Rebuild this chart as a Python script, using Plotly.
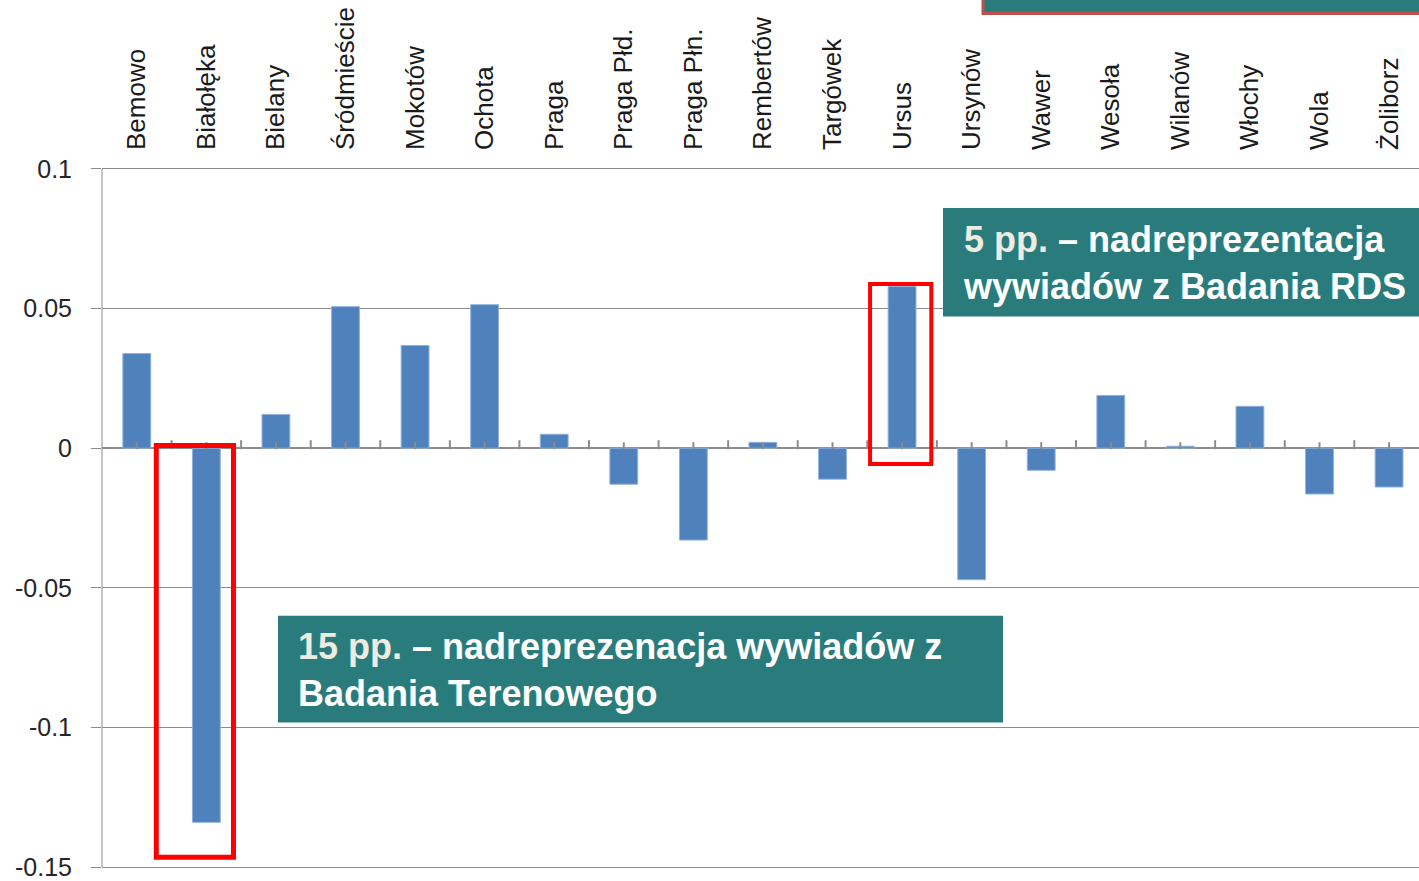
import plotly.graph_objects as go

categories = ["Bemowo", "Białołęka", "Bielany", "Śródmieście", "Mokotów", "Ochota", "Praga",
              "Praga Płd.", "Praga Płn.", "Rembertów", "Targówek", "Ursus", "Ursynów", "Wawer",
              "Wesoła", "Wilanów", "Włochy", "Wola", "Żoliborz"]
values = [0.0339, -0.134, 0.0121, 0.0507, 0.0368, 0.0514, 0.0050, -0.0129, -0.0329, 0.0021,
          -0.0111, 0.0579, -0.0471, -0.0079, 0.0189, 0.0007, 0.0150, -0.0164, -0.0139]
y_ticks = [0.1, 0.05, 0, -0.05, -0.1, -0.15]
y_tick_labels = ["0.1", "0.05", "0", "-0.05", "-0.1", "-0.15"]

W, H = 1419, 881
L, T, B = 102, 166, 9          # plot area padded by 3 px above/below the 0.1 / -0.15 lines
PAD = 3 * 0.25 / 700           # the same 3 px expressed in data units
TEAL = "#2A7C7C"
BAR = "#4F81BD"


def px_x(p):
    return (p - L) / (W - L)


def px_y(p):
    return (H - B - p) / (H - B - T)


fig = go.Figure()
fig.add_trace(go.Bar(x=categories, y=values, width=0.4,
                     marker=dict(color=BAR, line=dict(color="#8FB1DA", width=1))))

shapes = []
# small tick marks on the zero line (category centres and boundaries)
for i in range(len(categories)):
    for off, ln in ((0, 6), (0.5, 8)):
        shapes.append(dict(type="line", xref="x", yref="y", ysizemode="pixel", yanchor=0,
                           x0=i + off, x1=i + off, y0=-1, y1=ln,
                           line=dict(color="#8C8C8C", width=2), layer="above"))

# red highlight frames
i_b = categories.index("Białołęka")
shapes.append(dict(type="rect", xref="x", yref="y", x0=i_b - 0.72, x1=i_b + 0.39,
                   y0=0.001, y1=-0.1465, line=dict(color="#FF0000", width=5)))
i_u = categories.index("Ursus")
shapes.append(dict(type="rect", xref="x", yref="y", x0=i_u - 0.46, x1=i_u + 0.42,
                   y0=0.0588, y1=-0.0057, line=dict(color="#FF0000", width=4)))

# teal callout boxes
shapes.append(dict(type="rect", xref="paper", yref="paper", x0=px_x(943), x1=px_x(1430),
                   y0=px_y(317), y1=px_y(208), fillcolor=TEAL, line=dict(width=0), layer="above"))
shapes.append(dict(type="rect", xref="paper", yref="paper", x0=px_x(278), x1=px_x(1003),
                   y0=px_y(724), y1=px_y(617), fillcolor=TEAL, line=dict(width=0), layer="above"))
shapes.append(dict(type="rect", xref="paper", yref="paper", x0=px_x(983), x1=px_x(1430),
                   y0=px_y(13), y1=px_y(-10), fillcolor=TEAL,
                   line=dict(color="#C0504D", width=3), layer="above"))
# value axis line from 0.1 to -0.15
shapes.append(dict(type="line", xref="paper", yref="y", x0=0, x1=0, y0=-0.15, y1=0.1,
                   line=dict(color="#8C8C8C", width=1)))

annotations = [
    dict(xref="paper", yref="paper", x=px_x(961), y=px_y(263), xanchor="left", yanchor="middle",
         align="left", showarrow=False,
         text="<b><span style='color:#EEECE1'>5 pp.</span> – nadreprezentacja<br>wywiadów z Badania RDS</b>",
         font=dict(family="Liberation Sans, Arial", size=36, color="white")),
    dict(xref="paper", yref="paper", x=px_x(296), y=px_y(671), xanchor="left", yanchor="middle",
         align="left", showarrow=False,
         text="<b><span style='color:#EEECE1'>15 pp.</span> – nadreprezenacja wywiadów z<br>Badania Terenowego</b>",
         font=dict(family="Liberation Sans, Arial", size=36, color="white")),
]

fig.update_layout(
    width=W, height=H,
    margin=dict(l=L, r=0, t=T, b=B, pad=0),
    paper_bgcolor="white", plot_bgcolor="white",
    showlegend=False,
    shapes=shapes,
    annotations=annotations,
    bargap=0.6,
    font=dict(family="Liberation Sans, Arial", color="#262626"),
)
fig.update_xaxes(side="top", tickangle=-90, tickfont=dict(size=26, color="#1a1a1a"),
                 range=[-0.5, 18.43], showgrid=False, showline=False, ticks="",
                 ticklabelstandoff=15)
fig.update_yaxes(range=[-0.15 - PAD, 0.1 + PAD], tickvals=y_ticks, ticktext=y_tick_labels,
                 tickfont=dict(size=25, color="#262626"), showgrid=True, gridcolor="#8C8C8C",
                 gridwidth=1, zeroline=True, zerolinecolor="#8C8C8C", zerolinewidth=2,
                 showline=False, ticks="outside", ticklabeloverflow="allow",
                 ticklen=10, tickcolor="#8C8C8C", ticklabelstandoff=14)

fig.write_html("out.html", config={"displayModeBar": False})

# remove the browser's default body margin so the figure sits at the window origin
with open("out.html", "r", encoding="utf-8") as f:
    html = f.read()
html = html.replace("<head>", "<head><style>html,body{margin:0;padding:0;overflow:hidden;}</style>", 1)
with open("out.html", "w", encoding="utf-8") as f:
    f.write(html)
